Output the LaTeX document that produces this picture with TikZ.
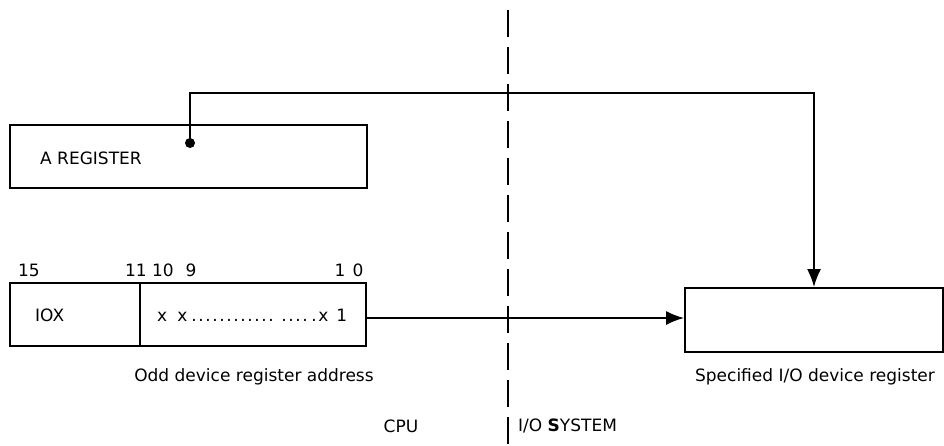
\documentclass[tikz,border=0pt]{standalone}
\usepackage{fontspec}
\setmainfont{DejaVu Sans}
\usetikzlibrary{arrows.meta}
\newcommand{\dd}{.\kern1.6pt}
\begin{document}
\begin{tikzpicture}[x=1pt,y=-1pt,
  box/.style={draw,line width=2pt},
  conn/.style={line width=1.6pt},
  lbl/.style={inner sep=0pt,font=\fontsize{17}{20}\selectfont},
  arr/.style={-{Latex[length=18pt,width=14pt]}}]
\useasboundingbox (0,0) rectangle (944,446);
% boxes
\draw[box] (10,125) rectangle (367,188);
\node[lbl,anchor=west] (areg) at (40,158) {A REGISTER};
\draw[box] (10,283) rectangle (366,346);
\draw[box] (140,283) -- (140,346);
\node[lbl,anchor=west] (iox) at (35,315) {IOX};
\node[lbl,anchor=west] (bits) at (157,315) {x\hspace{10pt}x\hspace{4pt}\dd\dd\dd\dd\dd\dd\dd\dd\dd\dd\dd\dd\hspace{6pt}\dd\dd\dd\dd\hspace{2pt}\dd x\hspace{8pt}1};
\node[lbl] at (29,270) {15};
\node[lbl] at (136,270) {11};
\node[lbl] at (163,270) {10};
\node[lbl] at (191,270) {9};
\node[lbl] at (340,270) {1};
\node[lbl] at (358,270) {0};
\node[lbl] (oddl) at (254,377) {Odd device register address};
% device register
\node[box,minimum width=258pt,minimum height=64pt,inner sep=0pt] (dev) at (814,320) {};
\node[lbl] (devl) at (815,377) {Specified I/O device register};
% dot
\coordinate (dot) at (190,143);
\fill (dot) circle (5pt);
\coordinate (src) at (367,318);
% connectors
\draw[conn,arr] (dot) -- (190,93) -- (814,93) -- (dev.north);
\draw[conn,arr] (src) -- (src -| dev.west);
% dashed divider
\draw[line width=1.4pt,dash pattern=on 27pt off 10pt] (508,10) -- (508,446);
\node[lbl] (cpu) at (401,426) {CPU};
\node[lbl,anchor=west] (ios) at (518,426) {I/O \textbf{S}YSTEM};
\end{tikzpicture}
\end{document}
